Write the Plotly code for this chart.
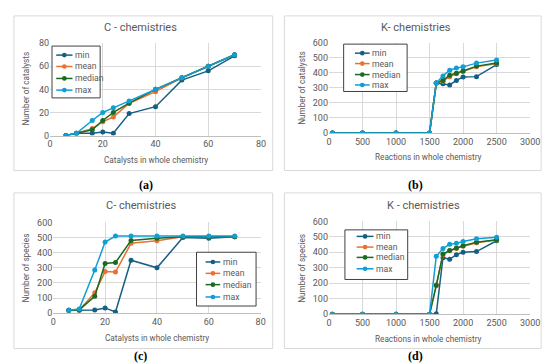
import plotly.graph_objects as go

W, H = 550, 364

# ---------- data ----------
c_x = [6, 10, 16, 20, 24, 30, 40, 50, 60, 70]
k_x = [50, 500, 1000, 1500, 1600, 1700, 1800, 1900, 2000, 2200, 2500]

a_min = [0, 2, 2, 3, 2, 19, 25, 48, 56, 69]
a_mean = [0, 2, 6, 12, 16, 28, 38, 50, 60, 70]
a_median = [0, 2, 5, 13, 20, 28, 40, 50, 60, 70]
a_max = [0, 2, 13, 20, 24, 30, 40, 50, 60, 70]

b_min = [0, 0, 0, 0, 332, 327, 320, 350, 372, 375, 455]
b_mean = [0, 0, 0, 0, 332, 345, 375, 395, 410, 440, 462]
b_median = [0, 0, 0, 0, 332, 350, 385, 397, 412, 445, 465]
b_max = [0, 0, 0, 0, 332, 380, 418, 432, 440, 465, 485]

c_min = [20, 20, 22, 35, 8, 350, 300, 500, 495, 505]
c_mean = [20, 22, 135, 275, 272, 462, 478, 505, 505, 505]
c_median = [20, 22, 112, 328, 335, 480, 495, 505, 505, 505]
c_max = [20, 28, 285, 470, 510, 510, 510, 510, 510, 510]

d_min = [0, 0, 0, 0, 3, 365, 355, 385, 400, 405, 475]
d_mean = [0, 0, 0, 0, 190, 385, 410, 425, 440, 462, 480]
d_median = [0, 0, 0, 0, 185, 390, 412, 428, 442, 465, 482]
d_max = [0, 0, 0, 0, 375, 425, 452, 458, 470, 488, 498]

series_names = ["min", "mean", "median", "max"]
colors = ["#156082", "#E97132", "#196B24", "#0F9ED5"]

panel_titles = ["C - chemistries", "K- chemistries", "C- chemistries", "K - chemistries"]
x_titles = ["Catalysts in whole chemistry", "Reactions in whole chemistry",
            "Catalysts in whole chemistry", "Reactions in whole chemistry"]
y_titles = ["Number of catalysts", "Number of catalysts", "Number of species", "Number of species"]
captions = ["(a)", "(b)", "(c)", "(d)"]

TXT = "#595959"
GRID = "#D9D9D9"
FONT = "Roboto"


def px(x):
    return x / W


def py(y):
    return 1 - y / H


panels = [
    dict(x=c_x, ys=[a_min, a_mean, a_median, a_max], xr=[0, 80], xd=20, yr=[0, 80], yd=20,
         dom_x=(40, 256), dom_y=(31, 126), box=(3, 3, 268, 162),
         title=(133, 15), xt=(148, 151), yt=(15, 78), cap=(138, 177),
         leg_box=(42, 34, 91.3, 87.3), leg_rows=(43.3, 55, 67.3, 79.3), leg_line=(46.3, 63)),
    dict(x=k_x, ys=[b_min, b_mean, b_median, b_max], xr=[0, 3000], xd=500, yr=[0, 600], yd=100,
         dom_x=(325.7, 531.7), dom_y=(30.7, 123.3), box=(280, 3, 543, 162),
         title=(415, 15), xt=(428, 148), yt=(298, 77), cap=(414, 177),
         leg_box=(340.7, 32, 405.7, 80.7), leg_rows=(41.3, 52, 63.3, 74), leg_line=(352.3, 367.3)),
    dict(x=c_x, ys=[c_min, c_mean, c_median, c_max], xr=[0, 80], xd=20, yr=[0, 600], yd=100,
         dom_x=(43.3, 255.7), dom_y=(215.3, 308.7), box=(3, 185, 268, 345),
         title=(133, 198), xt=(150, 334), yt=(15, 262), cap=(133, 353),
         leg_box=(190, 246, 251, 301.3), leg_rows=(256, 267.7, 279.3, 292), leg_line=(199.3, 214.3)),
    dict(x=k_x, ys=[d_min, d_mean, d_median, d_max], xr=[0, 3000], xd=500, yr=[0, 600], yd=100,
         dom_x=(325.7, 531.7), dom_y=(214.3, 309.7), box=(280, 185, 543, 345),
         title=(422, 198), xt=(428, 335), yt=(298, 262), cap=(414, 353),
         leg_box=(342, 223, 406.3, 274), leg_rows=(229.7, 240.7, 251.3, 263), leg_line=(354, 371.3)),
]

fig = go.Figure()
shapes = []
annotations = []
layout = {}

for i, p in enumerate(panels):
    n = "" if i == 0 else str(i + 1)
    for name, ys, col in zip(series_names, p["ys"], colors):
        fig.add_trace(go.Scatter(
            x=p["x"], y=ys, name=name, mode="lines+markers",
            line=dict(color=col, width=1.5), marker=dict(color=col, size=5),
            xaxis=f"x{n}", yaxis=f"y{n}", showlegend=False))
    layout[f"xaxis{n}"] = dict(
        domain=[px(p["dom_x"][0]), px(p["dom_x"][1])], range=p["xr"], dtick=p["xd"],
        tick0=0, showgrid=True, gridcolor=GRID, gridwidth=1, zeroline=False,
        showline=True, linecolor="#BFBFBF", linewidth=1, ticks="",
        tickfont=dict(size=9, color=TXT, family=FONT), anchor=f"y{n}", fixedrange=True)
    layout[f"yaxis{n}"] = dict(
        domain=[py(p["dom_y"][1]), py(p["dom_y"][0])], range=p["yr"], dtick=p["yd"],
        tick0=0, showgrid=True, gridcolor=GRID, gridwidth=1, zeroline=False,
        showline=False, ticks="", tickfont=dict(size=9, color=TXT, family=FONT),
        anchor=f"x{n}", fixedrange=True)

    # panel frame
    b = p["box"]
    shapes.append(dict(type="rect", xref="paper", yref="paper",
                       x0=px(b[0]), x1=px(b[2]), y0=py(b[3]), y1=py(b[1]),
                       line=dict(color=GRID, width=1), fillcolor="rgba(0,0,0,0)",
                       layer="below"))

    # legend box (drawn as layout decoration)
    lb = p["leg_box"]
    shapes.append(dict(type="rect", xref="paper", yref="paper",
                       x0=px(lb[0]), x1=px(lb[2]), y0=py(lb[3]), y1=py(lb[1]),
                       line=dict(color="#404040", width=1), fillcolor="white",
                       layer="above"))
    l0, l1 = p["leg_line"]
    for name, col, ry in zip(series_names, colors, p["leg_rows"]):
        shapes.append(dict(type="line", xref="paper", yref="paper",
                           x0=px(l0), x1=px(l1), y0=py(ry), y1=py(ry),
                           line=dict(color=col, width=1.5), layer="above"))
        mx = (l0 + l1) / 2
        r = 2.4
        shapes.append(dict(type="circle", xref="paper", yref="paper",
                           x0=px(mx - r), x1=px(mx + r), y0=py(ry + r), y1=py(ry - r),
                           line=dict(color=col, width=0), fillcolor=col, layer="above"))
        annotations.append(dict(text=name, x=px(l1 + 0.3), y=py(ry),
                                xref="paper", yref="paper", showarrow=False,
                                font=dict(size=8.6, color=TXT, family=FONT),
                                xanchor="left", yanchor="middle"))

    annotations.append(dict(text=panel_titles[i], x=px(p["title"][0]), y=py(p["title"][1]),
                            xref="paper", yref="paper", showarrow=False,
                            font=dict(size=11, color=TXT, family=FONT),
                            xanchor="center", yanchor="middle"))
    annotations.append(dict(text=x_titles[i], x=px(p["xt"][0]), y=py(p["xt"][1]),
                            xref="paper", yref="paper", showarrow=False,
                            font=dict(size=8.2, color=TXT, family=FONT),
                            xanchor="center", yanchor="middle"))
    annotations.append(dict(text=y_titles[i], x=px(p["yt"][0]), y=py(p["yt"][1]),
                            xref="paper", yref="paper", showarrow=False, textangle=-90,
                            font=dict(size=8.2, color=TXT, family=FONT),
                            xanchor="center", yanchor="middle"))
    annotations.append(dict(text="<b>" + captions[i] + "</b>", x=px(p["cap"][0]), y=py(p["cap"][1]),
                            xref="paper", yref="paper", showarrow=False,
                            font=dict(size=12, color="#000000", family="Liberation Serif"),
                            xanchor="center", yanchor="middle"))

fig.update_layout(
    width=W, height=H, margin=dict(l=0, r=0, t=0, b=0),
    paper_bgcolor="white", plot_bgcolor="white", showlegend=False,
    shapes=shapes, annotations=annotations, **layout)

fig.write_html("out.html")
